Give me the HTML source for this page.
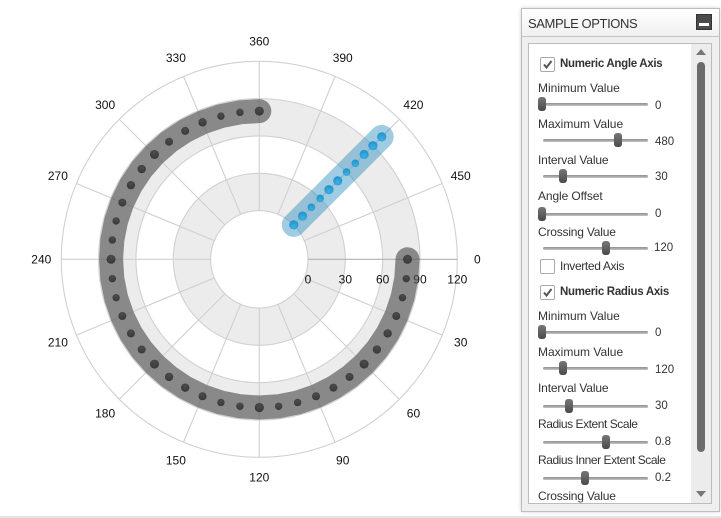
<!DOCTYPE html>
<html>
<head>
<meta charset="utf-8">
<title>Polar chart sample options</title>
<style>
html,body{margin:0;padding:0;background:#fff;}
body{width:721px;height:518px;overflow:hidden;position:relative;font-family:"Liberation Sans",sans-serif;color:#333;}
#chart{position:absolute;left:0;top:0;}
#chart text{font-family:"Liberation Sans",sans-serif;font-size:12px;fill:#111;text-anchor:middle;dominant-baseline:central;}
.strip{position:absolute;left:0;top:516px;width:721px;height:2px;background:#e4e4e4;}
.panel{position:absolute;left:521px;top:8px;width:197px;height:502px;border:1px solid #bdbdbd;background:#efefef;box-shadow:0 0 4px rgba(0,0,0,.18);}
.head{position:absolute;left:0;top:0;width:197px;height:27px;background:linear-gradient(#fff,#f0f0f0);border-bottom:1px solid #c4c4c4;}
.title{position:absolute;left:6px;top:7px;font-size:13px;line-height:16px;color:#333;letter-spacing:-.4px;}
.min{position:absolute;left:174px;top:5px;width:16px;height:16px;background:#4a4a4a;border:1px solid #333;box-sizing:border-box;}
.min i{position:absolute;left:2px;top:8px;width:10px;height:3px;background:#fff;}
.box{position:absolute;left:6px;top:34px;width:182px;height:459px;background:#fff;border:1px solid #bcbcbc;overflow:hidden;}
.sb{position:absolute;left:162px;top:0;width:20px;height:459px;background:#ececec;}
.thumb{position:absolute;left:6px;top:18px;width:8px;height:390px;border-radius:4px;background:#6b6b6b;}
.up{position:absolute;left:5px;top:5px;width:0;height:0;border:5px solid transparent;border-top:0;border-bottom:6px solid #777;}
.dn{position:absolute;left:5px;top:447px;width:0;height:0;border:5px solid transparent;border-bottom:0;border-top:6px solid #777;}
.lb{position:absolute;font-size:12px;line-height:14px;white-space:nowrap;color:#333;}
.val{font-size:11.5px;}
.b{font-weight:bold;font-size:11.5px;letter-spacing:-.3px;}
.cb{position:absolute;left:11px;width:13px;height:13px;border:1px solid #aaa;border-radius:2px;background:#fff;}
.cb svg{position:absolute;left:1px;top:1px;}
.tr{position:absolute;left:14px;width:105px;height:3px;border-radius:2px;background:linear-gradient(#8e8e8e,#c4c4c4);border:0;}
.th{position:absolute;width:8px;height:14px;border-radius:3px;background:linear-gradient(#777,#4a4a4a);}
</style>
</head>
<body>
<svg id="chart" width="515" height="518">
<defs>
<radialGradient id="gd" cx=".5" cy=".3" r=".75"><stop offset="0" stop-color="#4c4c4c"/><stop offset="1" stop-color="#363636"/></radialGradient>
<radialGradient id="bd" cx=".5" cy=".7" r=".75"><stop offset="0" stop-color="#3cb0e4"/><stop offset="1" stop-color="#1f8fc4"/></radialGradient>
</defs>
</svg>
<div class="strip"></div>

<div class="panel">
 <div class="head">
  <div class="title">SAMPLE OPTIONS</div>
  <div class="min"><i></i></div>
 </div>
 <div class="box">
  <div class="cb" style="top:13px"><svg width="11" height="11"><path d="M2 5.5 L4.5 8.5 L9.5 2" fill="none" stroke="#555" stroke-width="2"/></svg></div>
  <div class="lb b" style="left:31px;top:13px">Numeric Angle Axis</div>

  <div class="lb" style="left:9px;top:37px">Minimum Value</div>
  <div class="tr" style="top:59px"></div>
  <div class="th" style="left:9px;top:53px"></div>
  <div class="lb val" style="left:126px;top:55px">0</div>

  <div class="lb" style="left:9px;top:73px">Maximum Value</div>
  <div class="tr" style="top:95px"></div>
  <div class="th" style="left:85px;top:89px"></div>
  <div class="lb val" style="left:126px;top:91px">480</div>

  <div class="lb" style="left:9px;top:109px;letter-spacing:-.15px">Interval Value</div>
  <div class="tr" style="top:131px"></div>
  <div class="th" style="left:30px;top:125px"></div>
  <div class="lb val" style="left:126px;top:126px">30</div>

  <div class="lb" style="left:9px;top:145px;letter-spacing:-.1px">Angle Offset</div>
  <div class="tr" style="top:169px"></div>
  <div class="th" style="left:9px;top:163px"></div>
  <div class="lb val" style="left:126px;top:163px">0</div>

  <div class="lb" style="left:9px;top:181px;letter-spacing:-.2px">Crossing Value</div>
  <div class="tr" style="top:203px"></div>
  <div class="th" style="left:73px;top:197px"></div>
  <div class="lb val" style="left:125px;top:197px">120</div>

  <div class="cb" style="top:215px"></div>
  <div class="lb" style="left:31px;top:215px;letter-spacing:-.35px">Inverted Axis</div>

  <div class="cb" style="top:241px"><svg width="11" height="11"><path d="M2 5.5 L4.5 8.5 L9.5 2" fill="none" stroke="#555" stroke-width="2"/></svg></div>
  <div class="lb b" style="left:31px;top:241px">Numeric Radius Axis</div>

  <div class="lb" style="left:9px;top:265px">Minimum Value</div>
  <div class="tr" style="top:287px"></div>
  <div class="th" style="left:9px;top:281px"></div>
  <div class="lb val" style="left:126px;top:282px">0</div>

  <div class="lb" style="left:9px;top:301px">Maximum Value</div>
  <div class="tr" style="top:323px"></div>
  <div class="th" style="left:30px;top:317px"></div>
  <div class="lb val" style="left:126px;top:319px">120</div>

  <div class="lb" style="left:9px;top:337px;letter-spacing:-.15px">Interval Value</div>
  <div class="tr" style="top:361px"></div>
  <div class="th" style="left:36px;top:355px"></div>
  <div class="lb val" style="left:126px;top:355px">30</div>

  <div class="lb" style="left:9px;top:373px;letter-spacing:-.45px">Radius Extent Scale</div>
  <div class="tr" style="top:397px"></div>
  <div class="th" style="left:73px;top:391px"></div>
  <div class="lb val" style="left:126px;top:391px">0.8</div>

  <div class="lb" style="left:9px;top:409px;letter-spacing:-.45px">Radius Inner Extent Scale</div>
  <div class="tr" style="top:433px"></div>
  <div class="th" style="left:52px;top:427px"></div>
  <div class="lb val" style="left:126px;top:427px">0.2</div>

  <div class="lb" style="left:9px;top:445px;letter-spacing:-.2px">Crossing Value</div>

  <div class="sb">
   <div class="up"></div>
   <div class="thumb"></div>
   <div class="dn"></div>
  </div>
 </div>
</div>

<script>
const angleTicks = [0,30,60,90,120,150,180,210,240,270,300,330,360,390,420,450];
const radiusTicks = [0,30,60,90,120];
const graySeriesAngles = [0,10,20,30,40,50,60,70,80,90,100,110,120,130,140,150,160,170,180,190,200,210,220,230,240,250,260,270,280,290,300,310,320,330,340,350,360];
const graySeriesRadii = [80,80,80,80,80,80,80,80,80,80,80,80,80,80,80,80,80,80,80,80,80,80,80,80,80,80,80,80,80,80,80,80,80,80,80,80,80];
const graySeriesSizes = [4.5,3.7,3.7,4,4.2,4.2,4.5,4,4,4,3.7,3.7,4.6,3.7,3.7,4,4.2,4.2,4.5,4,4,4,3.7,3.7,4.5,3.7,3.7,4,4.2,4.2,4.5,4,4,4.2,3.7,3.7,4.5];
const blueSeriesAngles = [420,420,420,420,420,420,420,420,420,420,420];
const blueSeriesRadii = [0,10,20,30,40,50,60,70,80,90,100];
const blueSeriesSizes = [4.6,4.6,3.8,3.8,4.6,4.6,3.8,3.8,4.6,4.6,4.6];

const svg = document.getElementById('chart');
const NS = 'http://www.w3.org/2000/svg';
const cx = 259.3, cy = 259.3, innerR = 48.7, outerR = 198, labelR = 218;
const angleMin = 0, angleMax = 480, radiusMin = 0, radiusMax = 120;

function angleScale(v){ return (v - angleMin) / (angleMax - angleMin) * 2 * Math.PI; }
function radiusScale(v){ return innerR + (v - radiusMin) / (radiusMax - radiusMin) * (outerR - innerR); }
function polarX(a, r){ return cx + r * Math.cos(angleScale(a)); }
function polarY(a, r){ return cy + r * Math.sin(angleScale(a)); }
function make(tag, attrs){
  const el = document.createElementNS(NS, tag);
  for (const k in attrs) el.setAttribute(k, attrs[k]);
  svg.appendChild(el);
  return el;
}

// interlaced bands
for (let i = 0; i + 1 < radiusTicks.length; i += 2) {
  const r = (radiusScale(radiusTicks[i]) + radiusScale(radiusTicks[i + 1])) / 2;
  const w = radiusScale(radiusTicks[i + 1]) - radiusScale(radiusTicks[i]);
  const band = make('circle', {cx: cx, cy: cy, r: r, fill: 'none', stroke: '#ececec', 'stroke-width': w});
  
  
}
// circular gridlines
radiusTicks.forEach(function(t){
  const ring = make('circle', {cx: cx, cy: cy, r: radiusScale(t), fill: 'none', stroke: '#d0d0d0', 'stroke-width': 1.1});
  
  
});
// radial gridlines
angleTicks.forEach(function(t){
  const spoke = make('line', {x1: polarX(t, innerR), y1: polarY(t, innerR), x2: polarX(t, outerR), y2: polarY(t, outerR), stroke: t === 0 ? '#b0b0b0' : '#d0d0d0', 'stroke-width': 1.1});
  
  
});
// angle labels
angleTicks.forEach(function(t){
  const lab = make('text', {x: polarX(t, labelR), y: polarY(t, labelR)});
  lab.textContent = t;
  
  
});
// radius labels
radiusTicks.forEach(function(t){
  const lab = make('text', {x: cx + radiusScale(t), y: cy + 20});
  lab.textContent = t;
  
  
});

function drawSeries(angles, radii, sizes, stroke, opacity, fill, name){
  const pts = angles.map(function(a, i){ return polarX(a, radiusScale(radii[i])) + ',' + polarY(a, radiusScale(radii[i])); }).join(' ');
  const line = make('polyline', {points: pts, fill: 'none', stroke: stroke, 'stroke-opacity': opacity, 'stroke-width': 24, 'stroke-linecap': 'round', 'stroke-linejoin': 'round'});
  
  
  angles.forEach(function(a, i){
    const dot = make('circle', {cx: polarX(a, radiusScale(radii[i])), cy: polarY(a, radiusScale(radii[i])), r: sizes[i], fill: fill});
    
    
  });
}
drawSeries(graySeriesAngles, graySeriesRadii, graySeriesSizes, '#525252', 0.64, 'url(#gd)', 'gray-series');
drawSeries(blueSeriesAngles, blueSeriesRadii, blueSeriesSizes, '#2a8fbf', 0.45, 'url(#bd)', 'blue-series');
</script>
</body>
</html>
